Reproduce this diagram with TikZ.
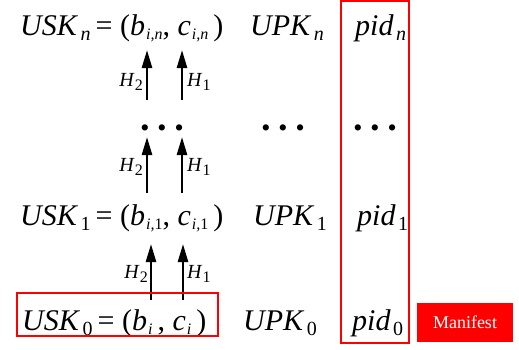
\documentclass[tikz,border=0pt]{standalone}
\usepackage{fontspec}
\setmainfont{Liberation Serif}
\usetikzlibrary{arrows.meta, positioning}

\newcommand{\lowsub}[1]{\hspace{2.5pt}\raisebox{-0.17em}{\fontsize{20}{20}\selectfont #1}}
\newcommand{\innersub}[1]{\hspace{1pt}\raisebox{-0.16em}{\fontsize{16}{16}\selectfont\itshape #1}}

\tikzset{
  keytext/.style={anchor=base west, inner sep=0pt, font=\fontsize{30}{36}\selectfont},
  hashlbl/.style={inner sep=0pt, font=\fontsize{20}{24}\selectfont\itshape},
  dotrow/.style={inner sep=0pt, font=\fontsize{26}{26}\selectfont},
  hasharrow/.style={-{Triangle[length=18pt,width=10pt]}, line width=2.6pt},
  redframe/.style={draw=red, line width=1.6pt}
}

\begin{document}
\begin{tikzpicture}[x=1pt, y=-1pt]
    \useasboundingbox (0,0) rectangle (519,349);

    % rows
    \node[keytext] (uskn) at (20,35) {\textit{USK}\lowsub{\itshape n}\,= (\textit{b}\innersub{i,n}, \textit{c}\innersub{i,n}\,)};
    \node[keytext] (upkn) at (250,35) {\textit{UPK}\lowsub{\itshape n}};
    \node[keytext] (pidn) at (355,35) {\textit{pid}\lowsub{\itshape n}};

    \node[keytext] (usk1) at (20,225) {\textit{USK}\lowsub{1}\,= (\textit{b}\innersub{i,\upshape 1}, \textit{c}\innersub{i,\upshape 1}\,)};
    \node[keytext] (upk1) at (253,225) {\textit{UPK}\lowsub{1}};
    \node[keytext] (pid1) at (357,225) {\textit{pid}\lowsub{1}};

    \node[keytext] (usk0) at (22,330) {\textit{USK}\lowsub{0}\,= (\textit{b}\innersub{i}\,, \textit{c}\innersub{i}\,)};
    \node[keytext] (upk0) at (243,330) {\textit{UPK}\lowsub{0}};
    \node[keytext] (pid0) at (352,330) {\textit{pid}\lowsub{0}};

    % dots
    \node[dotrow] (dotsl) at (162,131) {\textbullet\hspace{8pt}\textbullet\hspace{8pt}\textbullet};
    \node[dotrow] (dotsm) at (283,131) {\textbullet\hspace{8pt}\textbullet\hspace{8pt}\textbullet};
    \node[dotrow] (dotsr) at (375,131) {\textbullet\hspace{8pt}\textbullet\hspace{8pt}\textbullet};

    % hash arrows
    \coordinate (ua2) at (147,100); \coordinate (ub2) at (147,50);
    \coordinate (ua1) at (182,100); \coordinate (ub1) at (182,50);
    \coordinate (ma2) at (147,193); \coordinate (mb2) at (147,137);
    \coordinate (ma1) at (182,193); \coordinate (mb1) at (182,137);
    \coordinate (la2) at (151,300); \coordinate (lb2) at (151,244);
    \coordinate (la1) at (183,300); \coordinate (lb1) at (183,244);

    \draw[hasharrow] (ua2) -- (ub2);
    \draw[hasharrow] (ua1) -- (ub1);
    \draw[hasharrow] (ma2) -- (mb2);
    \draw[hasharrow] (ma1) -- (mb1);
    \draw[hasharrow] (la2) -- (lb2);
    \draw[hasharrow] (la1) -- (lb1);

    \node[hashlbl, anchor=east] (hu2) at (143,82) {H\innersub{\upshape 2}};
    \node[hashlbl, anchor=west] (hu1) at (187,82) {H\innersub{\upshape 1}};
    \node[hashlbl, anchor=east] (hm2) at (143,167) {H\innersub{\upshape 2}};
    \node[hashlbl, anchor=west] (hm1) at (187,167) {H\innersub{\upshape 1}};
    \node[hashlbl, anchor=east] (hl2) at (148,274) {H\innersub{\upshape 2}};
    \node[hashlbl, anchor=west] (hl1) at (187,274) {H\innersub{\upshape 1}};

    % frames
    \draw[redframe] (17,293) rectangle (218,336);
    \draw[redframe] (341,1) rectangle (409,343);
    \node[fill=red, text=white, minimum width=96pt, minimum height=39pt, inner sep=0pt,
          font=\fontsize{18}{20}\selectfont] (manifest) at (465,322.5) {Manifest};
\end{tikzpicture}
\end{document}
